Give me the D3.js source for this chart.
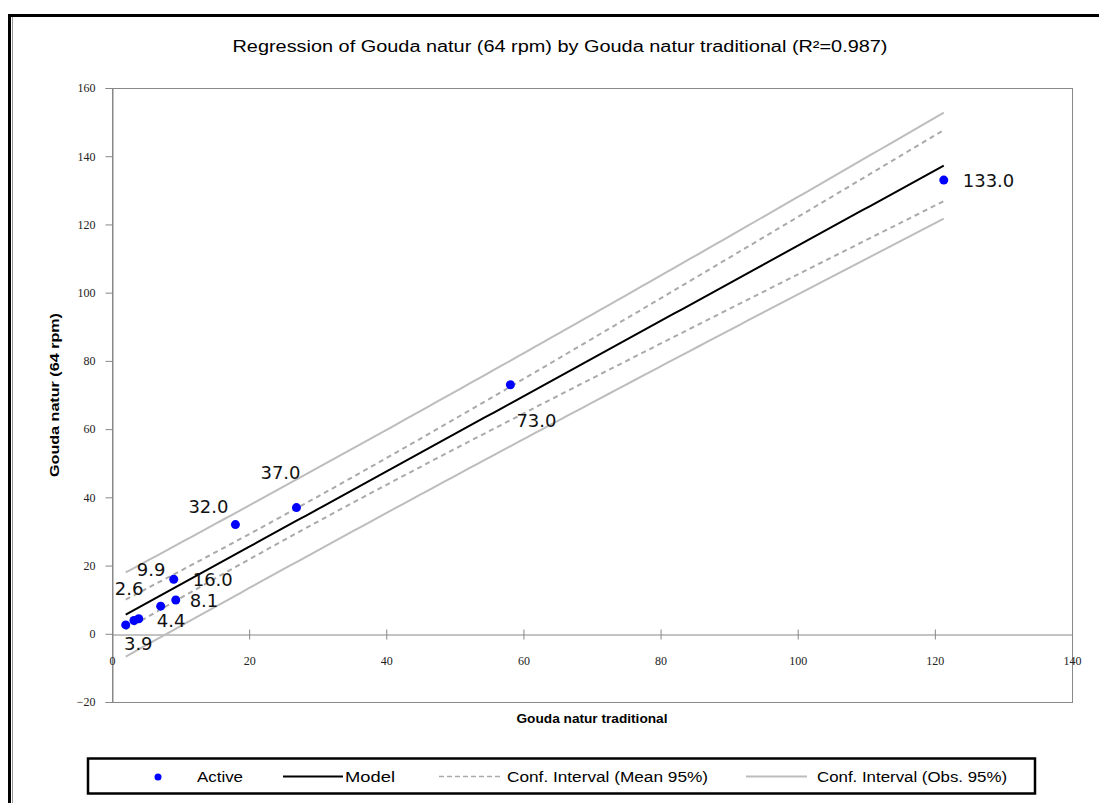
<!DOCTYPE html>
<html>
<head>
<meta charset="utf-8">
<script src="https://cdn.jsdelivr.net/npm/d3@7"></script>
<style>
  body { margin: 0; background: #fff; }
  svg { display: block; }
</style>
</head>
<body>
<svg width="1099" height="803"></svg>
<script>
let xValues = [2.0, 3.2, 3.9, 7.1, 9.3, 9.0, 18.0, 26.9, 58.1, 121.3];
let yValues = [2.6, 3.9, 4.4, 8.1, 9.9, 16.0, 32.0, 37.0, 73.0, 133.0];
let pointLabels = ["2.6", "3.9", "4.4", "8.1", "9.9", "16.0", "32.0", "37.0", "73.0", "133.0"];
// where each label sits relative to its point (px)
let labelOffsets = [[-11, -30], [-10, 30], [18, 8], [29, 1], [-39, -24], [19, 7], [-47, -12], [-36, -29], [6, 42], [19, 7]];
let xTicks = [0, 20, 40, 60, 80, 100, 120, 140];
let yTicks = [-20, 0, 20, 40, 60, 80, 100, 120, 140, 160];
let tCrit = 2.306;  // t(0.975, 8 df)

let titleText = "Regression of Gouda natur (64 rpm) by Gouda natur traditional (R²=0.987)";

let svg = d3.select("svg");
let plot = {left: 112, right: 1072, top: 88, bottom: 702};

let xScale = d3.scaleLinear().domain([0, 140]).range([plot.left, plot.right]);
let yScale = d3.scaleLinear().domain([-20, 160]).range([plot.bottom, plot.top]);

// outer frame
svg.append("rect")
	.attr("x", 9.5).attr("y", 15.5)
	.attr("width", 1200).attr("height", 900)
	.attr("fill", "none")
	.attr("stroke", "#000")
	.attr("stroke-width", 3);
svg.append("line")
	.attr("x1", 12.5).attr("x2", 12.5)
	.attr("y1", 17).attr("y2", 803)
	.attr("stroke", "#999").attr("stroke-width", 1);

// title
svg.append("text")
	.attr("x", 560).attr("y", 52)
	.attr("text-anchor", "middle")
	.attr("textLength", 655)
	.attr("lengthAdjust", "spacingAndGlyphs")
	.style("font-family", "Liberation Sans, Arial, sans-serif")
	.style("font-size", "16px")
	.text(titleText);

// plot frame
svg.append("rect")
	.attr("x", plot.left + 0.5).attr("y", plot.top + 0.5)
	.attr("width", plot.right - plot.left).attr("height", plot.bottom - plot.top)
	.attr("fill", "none")
	.attr("stroke", "#888")
	.attr("stroke-width", 1);

// y axis
let yAxis = svg.append("g")
	.attr("transform", `translate(${plot.left + 0.5}, 0)`)
	.call(d3.axisLeft(yScale).tickValues(yTicks).tickSize(7).tickPadding(10));
yAxis.select(".domain").attr("stroke", "#888");
yAxis.selectAll(".tick line").attr("stroke", "#888");
yAxis.selectAll(".tick text")
	.style("font-family", "Liberation Serif, serif")
	.style("font-size", "12px")
	.attr("fill", "#222");

// x axis sits at y = 0, ticks cross the line
let xAxis = svg.append("g")
	.attr("transform", `translate(0, ${Math.round(yScale(0)) + 0.5})`)
	.call(d3.axisBottom(xScale).tickValues(xTicks).tickSize(0).tickPadding(22));
xAxis.select(".domain").attr("stroke", "#888");
xAxis.selectAll(".tick line")
	.attr("y1", -5).attr("y2", 5)
	.attr("stroke", "#888");
xAxis.selectAll(".tick text")
	.style("font-family", "Liberation Serif, serif")
	.style("font-size", "12px")
	.attr("fill", "#222");

// axis titles
svg.append("text")
	.attr("x", (plot.left + plot.right) / 2).attr("y", 723)
	.attr("text-anchor", "middle")
	.attr("textLength", 151)
	.attr("lengthAdjust", "spacingAndGlyphs")
	.style("font-family", "Liberation Sans, Arial, sans-serif")
	.style("font-size", "13px")
	.style("font-weight", "bold")
	.text("Gouda natur traditional");

svg.append("text")
	.attr("transform", `translate(59, ${(plot.top + plot.bottom) / 2}) rotate(-90)`)
	.attr("text-anchor", "middle")
	.attr("textLength", 164)
	.attr("lengthAdjust", "spacingAndGlyphs")
	.style("font-family", "Liberation Sans, Arial, sans-serif")
	.style("font-size", "13px")
	.style("font-weight", "bold")
	.text("Gouda natur (64 rpm)");

// least squares fit and intervals
let n = xValues.length;
let mx = d3.mean(xValues), my = d3.mean(yValues);
let sxx = d3.sum(xValues, x => (x - mx) * (x - mx));
let sxy = d3.sum(xValues, (x, i) => (x - mx) * (yValues[i] - my));
let slope = sxy / sxx;
let intercept = my - slope * mx;
let sse = d3.sum(xValues, (x, i) => Math.pow(yValues[i] - (intercept + slope * x), 2));
let s = Math.sqrt(sse / (n - 2));

let [xmin, xmax] = d3.extent(xValues);
let grid = d3.range(0, 101).map(k => xmin + (xmax - xmin) * k / 100);
let fit = grid.map(x => {
	let yh = intercept + slope * x;
	let h = (x - mx) * (x - mx) / sxx;
	let dm = tCrit * s * Math.sqrt(1 / n + h);
	let dobs = tCrit * s * Math.sqrt(1 + 1 / n + h);
	return {x: x, y: yh, mLo: yh - dm, mHi: yh + dm, oLo: yh - dobs, oHi: yh + dobs};
});

function curve(key){
	return d3.line().x(d => xScale(d.x)).y(d => yScale(d[key]))(fit);
}

["oLo", "oHi"].forEach(k => {
	svg.append("path")
		.attr("d", curve(k))
		.attr("fill", "none")
		.attr("stroke", "#bdbdbd")
		.attr("stroke-width", 2);
});
["mLo", "mHi"].forEach(k => {
	svg.append("path")
		.attr("d", curve(k))
		.attr("fill", "none")
		.attr("stroke", "#aaa")
		.attr("stroke-width", 2)
		.attr("stroke-dasharray", "5,4");
});
svg.append("path")
	.attr("d", curve("y"))
	.attr("fill", "none")
	.attr("stroke", "#000")
	.attr("stroke-width", 2);

// points
svg.selectAll(".pt")
	.data(xValues)
	.enter()
	.append("circle")
	.attr("class", "pt")
	.attr("cx", d => xScale(d))
	.attr("cy", (d, i) => yScale(yValues[i]))
	.attr("r", 4.5)
	.attr("fill", "#0000ff");

svg.selectAll(".ptLabel")
	.data(pointLabels)
	.enter()
	.append("text")
	.attr("class", "ptLabel")
	.attr("x", (d, i) => xScale(xValues[i]) + labelOffsets[i][0])
	.attr("y", (d, i) => yScale(yValues[i]) + labelOffsets[i][1])
	.style("font-family", "DejaVu Sans, sans-serif")
	.style("font-size", "18px")
	.attr("fill", "#111")
	.text(d => d);

// legend
let legend = svg.append("g");
legend.append("rect")
	.attr("x", 88).attr("y", 758.5)
	.attr("width", 947).attr("height", 35)
	.attr("fill", "#fff")
	.attr("stroke", "#000")
	.attr("stroke-width", 2.5);

let legendFont = "Liberation Sans, Arial, sans-serif";
legend.append("circle")
	.attr("cx", 158).attr("cy", 777).attr("r", 3.5)
	.attr("fill", "#0000ff");
legend.append("line")
	.attr("x1", 283).attr("x2", 343).attr("y1", 776.5).attr("y2", 776.5)
	.attr("stroke", "#000").attr("stroke-width", 2);
legend.append("line")
	.attr("x1", 439).attr("x2", 500).attr("y1", 776.5).attr("y2", 776.5)
	.attr("stroke", "#aaa").attr("stroke-width", 1.5)
	.attr("stroke-dasharray", "5,3");
legend.append("line")
	.attr("x1", 746).attr("x2", 807).attr("y1", 776.5).attr("y2", 776.5)
	.attr("stroke", "#bdbdbd").attr("stroke-width", 2);

let legendItems = [
	{text: "Active", x: 197, w: 46},
	{text: "Model", x: 345, w: 50},
	{text: "Conf. Interval (Mean 95%)", x: 507, w: 201},
	{text: "Conf. Interval (Obs. 95%)", x: 817, w: 190}
];
legend.selectAll(".legText")
	.data(legendItems)
	.enter()
	.append("text")
	.attr("class", "legText")
	.attr("x", d => d.x).attr("y", 782)
	.attr("textLength", d => d.w)
	.attr("lengthAdjust", "spacingAndGlyphs")
	.style("font-family", legendFont)
	.style("font-size", "14px")
	.text(d => d.text);
</script>
</body>
</html>
